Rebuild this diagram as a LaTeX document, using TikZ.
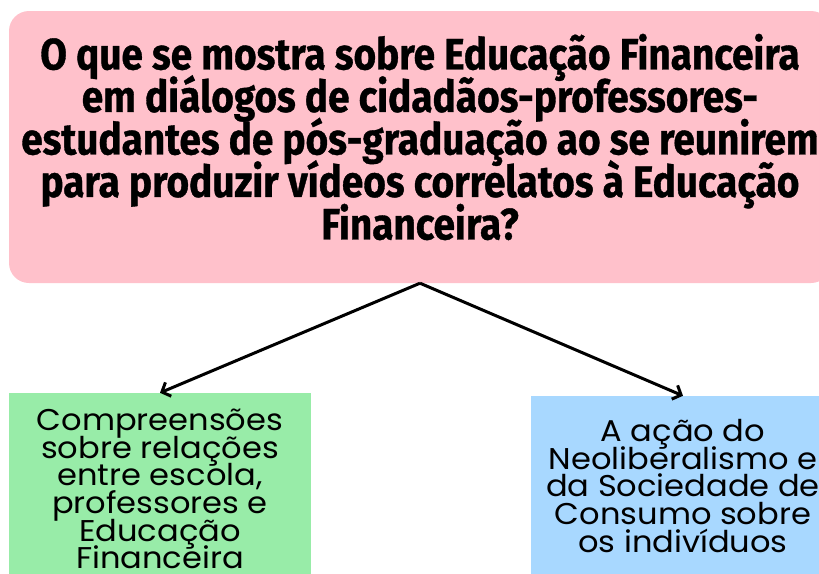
\documentclass[tikz,border=0pt]{standalone}
\usepackage{fontspec}
\usetikzlibrary{arrows.meta}
\newfontfamily\titlefont[FakeStretch=0.88,FakeBold=0.8]{Fira Sans}
\newfontfamily\boxfont[FakeStretch=1.07]{Poppins}
\newcommand\mytightlines{\lineskiplimit=-100pt\relax}
\definecolor{qpink}{RGB}{255,193,203}
\definecolor{bgreen}{RGB}{152,236,168}
\definecolor{bblue}{RGB}{168,216,255}
\tikzset{
  qbox/.style={fill=qpink, rounded corners=20pt, minimum width=822pt, minimum height=272pt, align=center, inner sep=0pt,
    font=\titlefont\bfseries\fontsize{44}{42.5}\selectfont\mytightlines},
  abox/.style={minimum width=302pt, align=center, inner sep=0pt,
    font=\boxfont\fontsize{30}{27.6}\selectfont\mytightlines},
  conn/.style={line width=3pt, -{Straight Barb[length=7pt,width=15pt,line width=3pt]}}
}
\begin{document}
\begin{tikzpicture}[x=1pt,y=-1pt]
\useasboundingbox (0,0) rectangle (819,573);
\clip (0,0) rectangle (819,573);
\node[qbox] (q) at (420,147) {};
\node[align=center, inner sep=0pt, font=\titlefont\bfseries\fontsize{44}{42.5}\selectfont\mytightlines] (qt) at (420,137) {O que se mostra sobre Educação Financeira\\em diálogos de cidadãos-professores-\\estudantes de pós-graduação ao se reunirem\\para produzir vídeos correlatos à Educação\\Financeira?};
\node[abox, fill=bgreen, minimum height=192pt] (g) at (160,489) {Compreensões\\sobre relações\\entre escola,\\professores e\\Educação\\Financeira};
\node[abox, fill=bblue, minimum width=304pt, minimum height=180pt] (b) at (683,486) {A ação do\\Neoliberalismo e\\da Sociedade de\\Consumo sobre\\os indivíduos};
\draw[conn] (q.south) -- (g.north);
\draw[conn] (q.south) -- (b.north);
\end{tikzpicture}
\end{document}
